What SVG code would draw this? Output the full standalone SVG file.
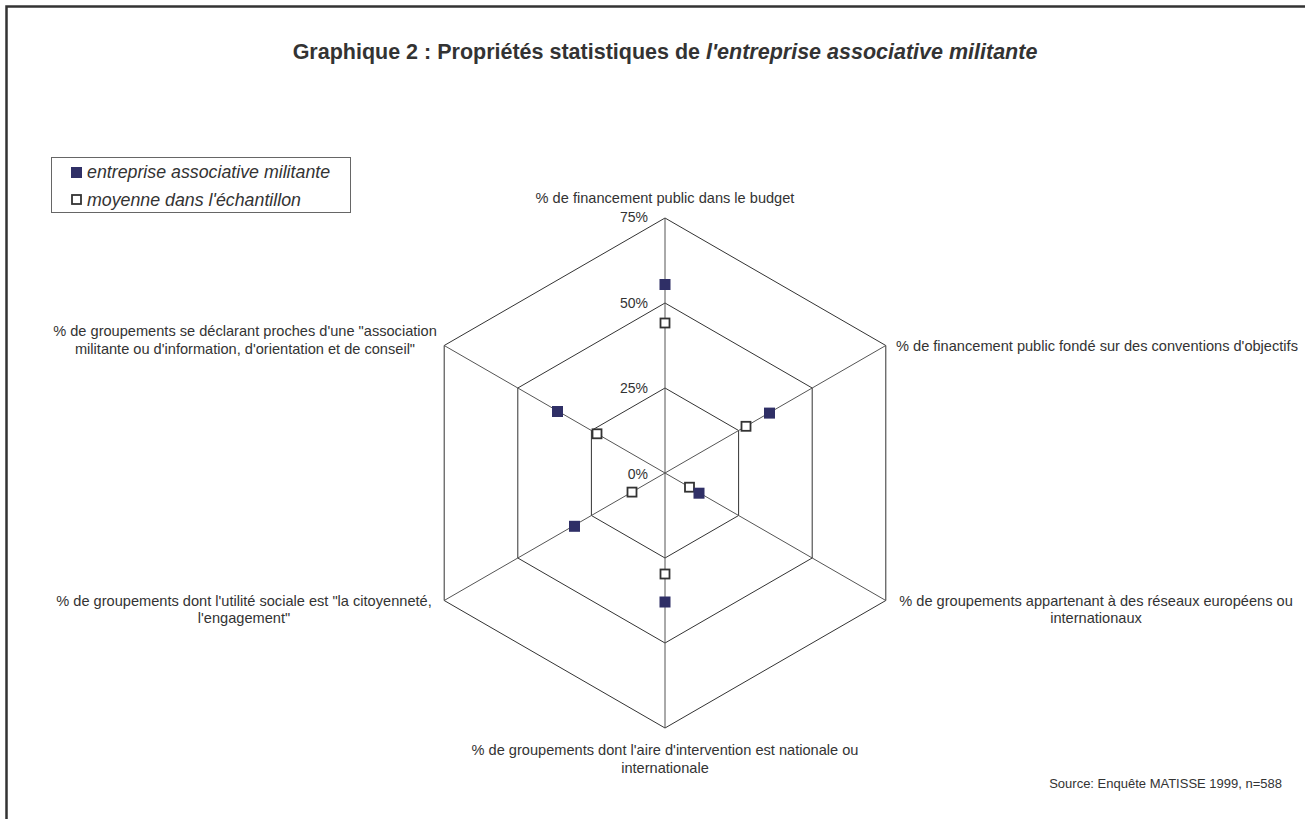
<svg xmlns="http://www.w3.org/2000/svg" width="1305" height="819" viewBox="0 0 1305 819">
<style>
text{font-family:"Liberation Sans",Arial,sans-serif;fill:#333}
.lab{font-size:14.6px}
.pct{font-size:14px;text-anchor:end}
.grid{fill:none;stroke:#333;stroke-width:1}
.axis{stroke:#555;stroke-width:1}
.dk{fill:#2f2f66}
.wt{fill:#fff;stroke:#333;stroke-width:1.8}
.leg{font-size:17.8px;font-style:italic}
</style>
<rect x="0" y="0" width="1305" height="819" fill="#fff"/>
<path d="M6.5,819 V6.5 H1305" fill="none" stroke="#333" stroke-width="2.5"/>
<text x="665" y="59" font-size="21.5" font-weight="bold" text-anchor="middle">Graphique 2 : Propriétés statistiques de <tspan font-style="italic">l'entreprise associative militante</tspan></text>
<g id="legend">
<rect x="51.5" y="157.5" width="299" height="55" fill="#fff" stroke="#666" stroke-width="1"/>
<rect class="dk" x="71" y="167" width="11" height="11"/>
<text class="leg" x="87" y="178">entreprise associative militante</text>
<rect class="wt" x="72" y="195" width="9" height="9"/>
<text class="leg" x="87" y="206">moyenne dans l'échantillon</text>
</g>
<g id="grid">
<polygon class="grid" points="665,388 738.6,430.5 738.6,515.5 665,558 591.4,515.5 591.4,430.5"/>
<polygon class="grid" points="665,303 812.2,388 812.2,558 665,643 517.8,558 517.8,388"/>
<polygon class="grid" points="665,218 885.8,345.5 885.8,600.5 665,728 444.2,600.5 444.2,345.5"/>
</g>
<g id="connectors">
<line class="axis" x1="665" y1="218" x2="665" y2="728"/>
<line class="axis" x1="885.8" y1="345.5" x2="444.2" y2="600.5"/>
<line class="axis" x1="885.8" y1="600.5" x2="444.2" y2="345.5"/>
</g>
<g id="scale">
<text class="pct" x="648" y="222">75%</text>
<text class="pct" x="648" y="308">50%</text>
<text class="pct" x="648" y="393">25%</text>
<text class="pct" x="648" y="479">0%</text>
</g>
<g id="series-avg">
<rect class="wt" x="660.5" y="318.5" width="9" height="9"/>
<rect class="wt" x="741.5" y="421.8" width="9" height="9"/>
<rect class="wt" x="685" y="482.7" width="9" height="9"/>
<rect class="wt" x="660.5" y="569.5" width="9" height="9"/>
<rect class="wt" x="627.5" y="487.6" width="9" height="9"/>
<rect class="wt" x="592.5" y="429.3" width="9" height="9"/>
</g>
<g id="series-ent">
<rect class="dk" x="659.5" y="279" width="11" height="11"/>
<rect class="dk" x="764" y="407.6" width="11" height="11"/>
<rect class="dk" x="693.5" y="487.7" width="11" height="11"/>
<rect class="dk" x="659.5" y="596.5" width="11" height="11"/>
<rect class="dk" x="569" y="520.8" width="11" height="11"/>
<rect class="dk" x="552" y="406" width="11" height="11"/>
</g>
<g id="label-top"><text class="lab" x="665" y="203" text-anchor="middle">% de financement public dans le budget</text></g>
<g id="label-ur"><text class="lab" x="896" y="351">% de financement public fondé sur des conventions d'objectifs</text></g>
<g id="label-lr"><text class="lab" text-anchor="middle"><tspan x="1096" y="606">% de groupements appartenant à des réseaux européens ou</tspan><tspan x="1096" y="623">internationaux</tspan></text></g>
<g id="label-b"><text class="lab" text-anchor="middle"><tspan x="665" y="755">% de groupements dont l'aire d'intervention est nationale ou</tspan><tspan x="665" y="773">internationale</tspan></text></g>
<g id="label-ll"><text class="lab" text-anchor="middle"><tspan x="244" y="606">% de groupements dont l'utilité sociale est "la citoyenneté,</tspan><tspan x="244" y="623">l'engagement"</tspan></text></g>
<g id="label-ul"><text class="lab" text-anchor="middle"><tspan x="245" y="336">% de groupements se déclarant proches d'une "association</tspan><tspan x="245" y="354">militante ou d'information, d'orientation et de conseil"</tspan></text></g>
<text x="1282" y="788" font-size="13" text-anchor="end">Source: Enquête MATISSE 1999, n=588</text>
</svg>
